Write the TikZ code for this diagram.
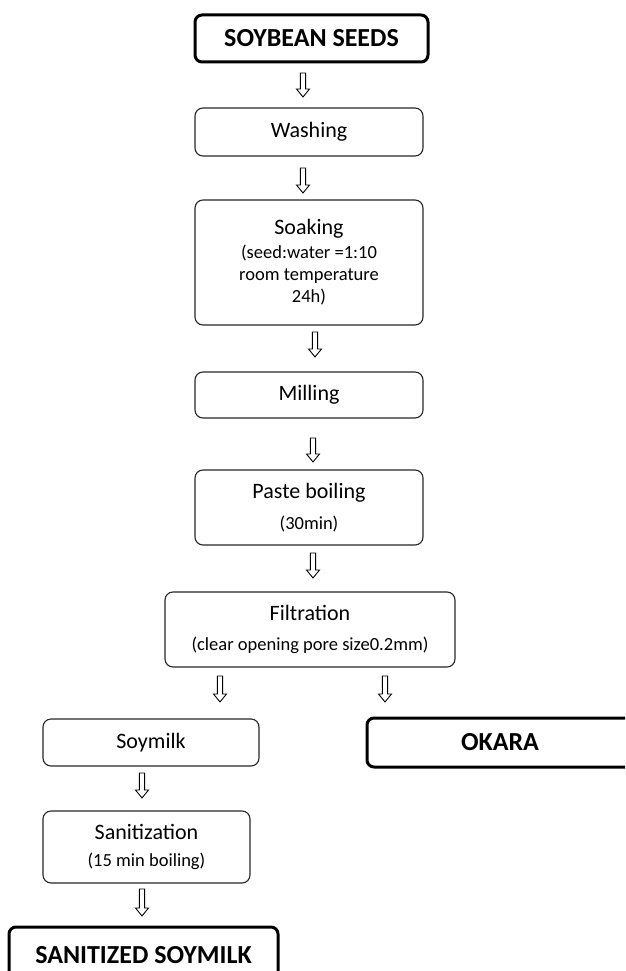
\documentclass[tikz,border=0pt]{standalone}
\usepackage{fontspec}
\setmainfont{Carlito}
\usetikzlibrary{calc}
\newcommand{\ttl}{\fontsize{22}{24}\selectfont}
\newcommand{\sbt}{\fontsize{18.5}{22}\selectfont}
\newcommand{\bld}{\fontsize{26}{30}\selectfont\bfseries}
\tikzset{
  stepbox/.style={draw=black!85, line width=1.1pt, rounded corners=8pt, inner sep=0pt,
    align=center, font=\sbt},
  endbox/.style={draw=black, line width=3pt, rounded corners=7pt, inner sep=0pt,
    align=center, font=\bld},
  blockarrow/.style={draw=black, line width=0.9pt, fill=white, line join=miter,
    to path={let \p1=(\tikztostart), \p2=(\tikztotarget) in
      (\x1-2.6pt,\y1) -- (\x1+2.6pt,\y1) -- (\x1+2.6pt,\y2+8pt) -- (\x1+6.5pt,\y2+8pt)
      -- (\x1,\y2) -- (\x1-6.5pt,\y2+8pt) -- (\x1-2.6pt,\y2+8pt) -- cycle}}
}
\begin{document}
\begin{tikzpicture}[x=1pt,y=-1pt]
\useasboundingbox (0,0) rectangle (625,971);
\clip (0,0) rectangle (625,971);
% boxes
\node[endbox, minimum width=233pt, minimum height=47pt] (seeds) at (311.5,38.5) {SOYBEAN SEEDS};
\node[stepbox, minimum width=228pt, minimum height=48pt] (wash) at (309,132) {\ttl Washing};
\node[stepbox, minimum width=228pt, minimum height=125pt] (soak) at (309,262.5)
  {{\ttl Soaking}\\[2pt](seed:water =1:10\\room temperature\\24h)};
\node[stepbox, minimum width=228pt, minimum height=46pt] (mill) at (309,395) {\ttl Milling};
\node[stepbox, minimum width=228pt, minimum height=75pt] (paste) at (309,507.5)
  {{\ttl Paste boiling}\\[9pt](30min)};
\node[stepbox, minimum width=290pt, minimum height=75pt] (filt) at (310,629.5)
  {{\ttl Filtration}\\[8pt](clear opening pore size0.2mm)};
\node[stepbox, minimum width=216pt, minimum height=47pt] (milk) at (151,742.5) {\ttl Soymilk};
\node[endbox, minimum width=266pt, minimum height=49pt] (okara) at (500,742.5) {OKARA};
\node[stepbox, minimum width=207pt, minimum height=72pt] (sanit) at (146.5,847)
  {{\ttl Sanitization}\\[5pt](15 min boiling)};
\node[endbox, minimum width=269pt, minimum height=56pt] (final) at (143.5,955) {SANITIZED SOYMILK};
% arrow ends
\coordinate (a1s) at (303,73);  \coordinate (a1e) at (303,97);
\coordinate (a2s) at (303,168); \coordinate (a2e) at (303,193);
\coordinate (a3s) at (315,332); \coordinate (a3e) at (315,357);
\coordinate (a4s) at (313,438); \coordinate (a4e) at (313,462);
\coordinate (a5s) at (313,553); \coordinate (a5e) at (313,578);
\coordinate (a6s) at (220,676); \coordinate (a6e) at (220,702);
\coordinate (a7s) at (385,676); \coordinate (a7e) at (385,702);
\coordinate (a8s) at (142,773); \coordinate (a8e) at (142,798);
\coordinate (a9s) at (142,889); \coordinate (a9e) at (142,916);
\foreach \i in {1,...,9} \draw[blockarrow] (a\i s) to (a\i e);
\end{tikzpicture}
\end{document}
